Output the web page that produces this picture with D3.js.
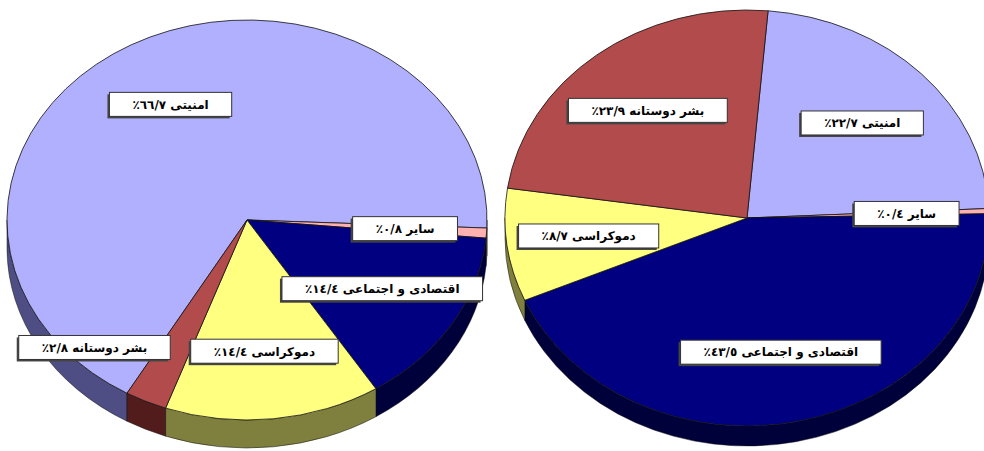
<!DOCTYPE html>
<html>
<head>
<meta charset="utf-8">
<script src="https://cdn.jsdelivr.net/npm/d3@7"></script>
<style>
  body { margin: 0; background: #fff; }
</style>
</head>
<body>
<div id="frame"></div>
<script>
// slice names, same order in both pies
let categories = ["امنیتی", "سایر", "اقتصادی و اجتماعی", "دموکراسی", "بشر دوستانه"];
// shares in percent
let leftValues = [66.7, 0.8, 14.4, 14.4, 2.8];
let rightValues = [22.7, 0.4, 43.5, 8.7, 23.9];

// colors (top face / side wall)
let topColors = ["#b0b0ff", "#ffb0b0", "#000080", "#ffff80", "#b24c4c"];
let sideColors = ["#4e4e84", "#8a5a5a", "#00003a", "#80803e", "#521c1c"];

let width = 984, height = 451;
let deg = Math.PI / 180;

let svg = d3.select('#frame')
    .append('svg')
    .attr('width', width)
    .attr('height', height);

//pie geometry (3d look: ellipse + wall)
let pies = [
    { values: leftValues, cx: 247, cy: 220, rx: 240, ry: 200, depth: 28, start: 210 * deg, nudge: { 4: [20 * deg, 0.9] } },
    { values: rightValues, cx: 747, cy: 218, rx: 242, ry: 208, depth: 20, start: 5 * deg, nudge: {} }
];

// arabic digits, "/" as decimal mark
let digits = '٠١٢٣٤٥٦٧٨٩';
let fmt = v => String(v).replace('.', '/').replace(/[0-9]/g, c => digits[+c]) + '٪';

pies.forEach(p => {
    let pt = (a, k, dz) => [p.cx + k * p.rx * Math.sin(a), p.cy - k * p.ry * Math.cos(a) + (dz || 0)];

    let arcs = d3.pie()
        .sort(null)
        .value(d => d)
        .startAngle(p.start)
        .endAngle(p.start + 2 * Math.PI)(p.values);

    let g = svg.append('g');

    // side walls, only the front half shows
    arcs.forEach((d, i) => {
        for (let k = -1; k <= 2; k++) {
            let lo = Math.PI / 2 + 2 * Math.PI * k, hi = 3 * Math.PI / 2 + 2 * Math.PI * k;
            let b0 = Math.max(d.startAngle, lo), b1 = Math.min(d.endAngle, hi);
            if (b1 <= b0) continue;
            let p0 = pt(b0, 1), p1 = pt(b1, 1), q0 = pt(b0, 1, p.depth), q1 = pt(b1, 1, p.depth);
            g.append('path')
                .attr('d', `M${p0}A${p.rx},${p.ry} 0 0 1 ${p1}L${q1}A${p.rx},${p.ry} 0 0 0 ${q0}Z`)
                .attr('fill', sideColors[i])
                .attr('stroke', '#111')
                .attr('stroke-width', 0.5);
        }
    });

    // top faces
    g.selectAll('path.slice')
        .data(arcs)
        .enter()
        .append('path')
        .attr('class', 'slice')
        .attr('d', d => {
            let large = d.endAngle - d.startAngle > Math.PI ? 1 : 0;
            return `M${p.cx},${p.cy}L${pt(d.startAngle, 1)}A${p.rx},${p.ry} 0 ${large} 1 ${pt(d.endAngle, 1)}Z`;
        })
        .attr('fill', (d, i) => topColors[i])
        .attr('stroke', '#111')
        .attr('stroke-width', 0.8);

    // data labels in boxes
    arcs.forEach((d, i) => {
        let n = p.nudge[i] || [0, 0.66];
        let a = (d.startAngle + d.endAngle) / 2 + n[0];
        let c = pt(a, n[1]);
        let lab = g.append('g').attr('transform', 'translate(' + c + ')');
        let txt = lab.append('text')
            .attr('text-anchor', 'middle')
            .attr('dy', '0.36em')
            .style('direction', 'rtl')
            .style('font-family', '"DejaVu Sans", sans-serif')
            .style('font-weight', 'bold')
            .style('font-size', '12px')
            .attr('fill', '#000')
            .text(categories[i] + ' ' + fmt(p.values[i]));
        let w = txt.node().getComputedTextLength() + 46, h = 24;
        lab.insert('rect', 'text')
            .attr('x', -w / 2 - 2).attr('y', -h / 2 + 2)
            .attr('width', w).attr('height', h)
            .attr('fill', '#444');
        lab.insert('rect', 'text')
            .attr('x', -w / 2).attr('y', -h / 2)
            .attr('width', w).attr('height', h)
            .attr('fill', '#fff')
            .attr('stroke', '#333')
            .attr('stroke-width', 1);
    });
});
</script>
</body>
</html>
